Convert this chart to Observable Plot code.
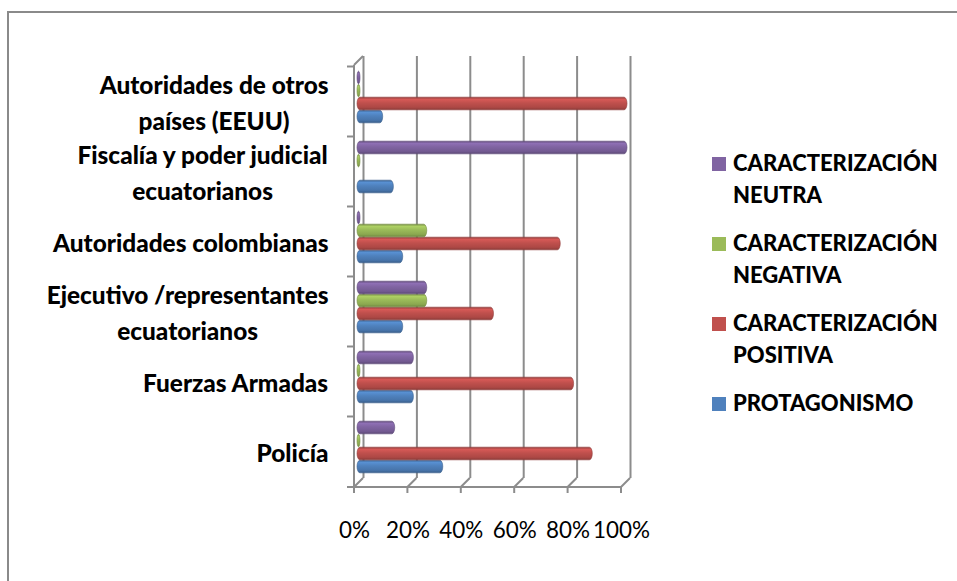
<!DOCTYPE html>
<html><head><meta charset="utf-8">
<script src="https://cdn.jsdelivr.net/npm/d3@7"></script>
<script src="https://cdn.jsdelivr.net/npm/@observablehq/plot@0.6"></script>
<style>
html,body{margin:0;padding:0;background:#fff;overflow:hidden}
body{width:957px;height:581px;position:relative;font-family:Lato,"Open Sans",sans-serif}
#frame{position:absolute;left:7px;top:11px;width:1000px;height:1000px;border:2px solid #8a8a8a;box-sizing:border-box}
#chart{position:absolute;left:0;top:0}
#legend{position:absolute;left:712px;top:147px;color:#000;font-weight:900}
.item{position:relative;padding-left:21px;line-height:32px;margin-bottom:16px;white-space:nowrap}
.sw{position:absolute;left:0;top:10px;width:14px;height:14px}
</style></head><body>
<div id="frame"></div>
<svg width="0" height="0" style="position:absolute"><defs id="defs"></defs></svg>
<div id="chart"></div>
<div id="legend"></div>
<script>
// ---- data ----
const categories = ["Policía","Fuerzas Armadas","Ejecutivo /representantes ecuatorianos","Autoridades colombianas","Fiscalía y poder judicial ecuatorianos","Autoridades de otros países (EEUU)"];
const categoryLabels = ["Policía","Fuerzas Armadas","Ejecutivo /representantes\necuatorianos","Autoridades colombianas","Fiscalía y poder judicial\necuatorianos","Autoridades de otros\npaíses (EEUU)"];
const seriesNames = ["PROTAGONISMO","CARACTERIZACIÓN POSITIVA","CARACTERIZACIÓN NEGATIVA","CARACTERIZACIÓN NEUTRA"];
const seriesColors = ["#4F81BD","#C0504D","#9BBB59","#8064A2"];
const protagonismo = [0.31, 0.20, 0.16, 0.16, 0.125, 0.085];
const positiva     = [0.87, 0.80, 0.50, 0.75, null, 1.00];
const negativa     = [0, 0, 0.25, 0.25, 0, 0];
const neutra       = [0.13, 0.20, 0.25, 0, 1.00, 0];
const xTicks = [0, 0.2, 0.4, 0.6, 0.8, 1];
const xTickLabels = ["0%","20%","40%","60%","80%","100%"];
const legendOrder = [3, 2, 1, 0];
const legendLines = {0:["PROTAGONISMO"],1:["CARACTERIZACIÓN","POSITIVA"],2:["CARACTERIZACIÓN","NEGATIVA"],3:["CARACTERIZACIÓN","NEUTRA"]};

// ---- helpers ----
const cv = document.createElement("canvas").getContext("2d");
function fit(text, weight, family, target) {
  cv.font = `${weight} 100px ${family}`;
  return 100 * target / cv.measureText(text).width;
}
function measure(text, weight, size, family) {
  cv.font = `${weight} ${size}px ${family}`;
  return cv.measureText(text).width;
}
const FAM = "Lato";
const HEAVY = "900";
const labelSize = fit("Fuerzas Armadas", HEAVY, FAM, 186);
const legendSize = fit("CARACTERIZACIÓN", HEAVY, FAM, 205);
const tickSize = fit("20%", "normal", FAM, 44);

// gradients (cylinder shading)
const defs = d3.select("#defs");
seriesColors.forEach((c, i) => {
  const b = d3.color(c);
  const g = defs.append("linearGradient").attr("id", "g" + i).attr("x1", 0).attr("y1", 0).attr("x2", 0).attr("y2", 1);
  [[0, b.darker(0.7)], [0.18, b.brighter(0.3)], [0.45, b], [0.8, b.darker(0.3)], [1, b.darker(0.9)]]
    .forEach(([o, col]) => g.append("stop").attr("offset", o).attr("stop-color", d3.color(col).formatHex()));
});

const seriesValues = [protagonismo, positiva, negativa, neutra];
const seriesDy = [19.5, 6.5, -6.5, -19.5];
const W = 957, H = 581, mL = 358.5, mR = 331.5, mT = 60.5, mB = 98.5;
const bw = (H - mT - mB) / categories.length;
const inset = (bw - 13) / 2;
const D = 4.5;
const gridColor = "#8c8c8c";

function frame3d(index, scales, values, dimensions) {
  const x = scales.x, y = scales.y;
  const top = dimensions.marginTop, bottom = dimensions.height - dimensions.marginBottom;
  const g = d3.create("svg:g").attr("stroke", gridColor).attr("stroke-width", 2).attr("fill", "none");
  g.append("line").attr("x1", x(0) - D).attr("x2", x(1) - D).attr("y1", bottom + D).attr("y2", bottom + D);
  for (const v of xTicks) {
    g.append("line").attr("x1", x(v) - D).attr("x2", x(v) + D).attr("y1", bottom + D).attr("y2", bottom - D);
    g.append("line").attr("x1", x(v) - D).attr("x2", x(v) - D).attr("y1", bottom + D).attr("y2", bottom + D + 6);
  }
  g.append("line").attr("x1", x(0) - D).attr("x2", x(0) - D).attr("y1", top + D).attr("y2", bottom + D);
  g.append("line").attr("x1", x(0) - D).attr("x2", x(0) + D).attr("y1", top + D).attr("y2", top - D);
  const edges = y.domain().map(c => y(c)).concat([bottom]);
  for (const e of edges) {
    g.append("line").attr("x1", x(0) - D - 7).attr("x2", x(0) - D).attr("y1", e + D).attr("y2", e + D);
  }
  return g.node();
}

const marks = [
  Plot.ruleX(xTicks, {x: d => d, dx: D, dy: -D, stroke: gridColor, strokeWidth: 2}),
  frame3d
];
seriesValues.forEach((vals, s) => {
  const rows = categories.map((c, i) => ({category: c, value: vals[i]})).filter(d => d.value != null);
  marks.push(Plot.barX(rows, {
    x1: () => 0, x2: "value", y: "category", dy: seriesDy[s],
    insetTop: inset, insetBottom: inset, insetLeft: -1.5, insetRight: -1.5,
    rx: 3, ry: 6.5, fill: `url(#g${s})`, stroke: d3.color(seriesColors[s]).darker(0.8).formatHex(), strokeWidth: 0.6
  }));
});
categories.forEach((c, i) => {
  const lines = categoryLabels[i].split("\n");
  const w = Math.max(...lines.map(l => measure(l, HEAVY, labelSize, FAM)));
  marks.push(Plot.text([c], {
    y: d => d, text: () => categoryLabels[i], frameAnchor: "left", textAnchor: "middle",
    dx: (328 - mL) - w / 2, dy: 3, lineHeight: 1.45, fontWeight: HEAVY, fontSize: labelSize, fill: "#000"
  }));
});
marks.push(Plot.text(xTicks, {
  x: d => d, text: (d, i) => xTickLabels[i], frameAnchor: "bottom", dx: -D, dy: 55,
  fontSize: tickSize, fill: "#000"
}));

const chart = Plot.plot({
  width: W, height: H, marginLeft: mL, marginRight: mR, marginTop: mT, marginBottom: mB,
  x: {domain: [0, 1], axis: null},
  y: {domain: categories.slice().reverse(), padding: 0, axis: null},
  style: {fontFamily: FAM, background: "transparent", overflow: "visible"},
  marks
});
document.getElementById("chart").appendChild(chart);

// legend
const legend = d3.select("#legend").style("font-size", legendSize + "px");
legendOrder.forEach(s => {
  const it = legend.append("div").attr("class", "item");
  it.append("div").attr("class", "sw").style("background", seriesColors[s]);
  it.append("div").html(legendLines[s].join("<br>"));
});
</script>
</body></html>
